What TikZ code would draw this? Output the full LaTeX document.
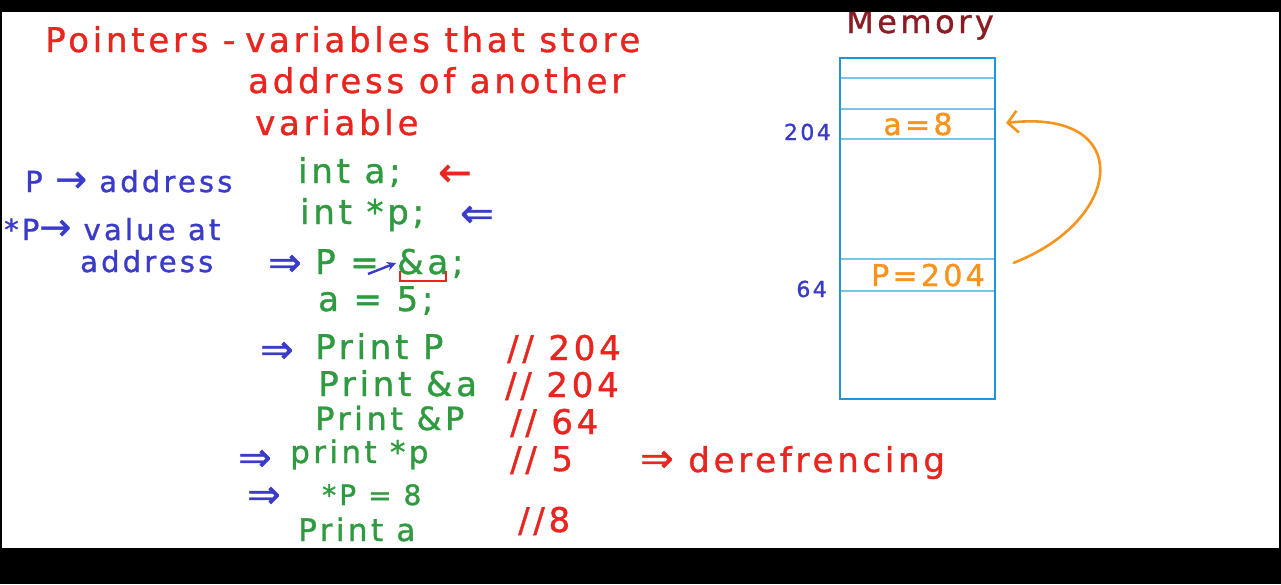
\documentclass[tikz,border=0pt]{standalone}
\usepackage{fontspec}
\setmainfont{DejaVu Sans}[LetterSpace=11,FakeBold=1.1]
\usetikzlibrary{arrows.meta,positioning,calc}

\definecolor{hred}{HTML}{E8261F}
\definecolor{hblue}{HTML}{3B3BCB}
\definecolor{hgreen}{HTML}{2F9A3F}
\definecolor{horange}{HTML}{F7941D}
\definecolor{membox}{HTML}{1E96DC}
\definecolor{memrule}{HTML}{7CC3E8}
\definecolor{hmaroon}{HTML}{8B1C24}

\begin{document}
\begin{tikzpicture}[x=1pt,y=-1pt,
    hand/.style={inner sep=0pt,anchor=base west,font=\fontsize{34}{40}\selectfont},
    redtxt/.style={hand,text=hred},
    bluetxt/.style={hand,text=hblue,font=\fontsize{29}{34}\selectfont},
    greentxt/.style={hand,text=hgreen},
    tighttxt/.style={greentxt,font=\fontsize{31}{36}\selectfont},
    marktxt/.style={hand,font=\fontsize{40}{40}\selectfont},
    celltxt/.style={inner sep=0pt,anchor=base,text=horange,font=\fontsize{30}{34}\selectfont},
    addrtxt/.style={inner sep=0pt,anchor=base east,text=hblue,font=\fontsize{22}{26}\selectfont}]
  % screen
  \fill[white] (0,0) rectangle (1281,584);
  % definition
  \node[redtxt] (title) at (45,52) {Pointers -};
  \node[redtxt] (def1) at (245,52) {variables that store};
  \node[redtxt] (def2) at (248,93) {address of another};
  \node[redtxt] (def3) at (255,135) {variable};
  % notes on the left
  \node[bluetxt] (paddr) at (25,192) {P {\fontsize{38}{38}\selectfont→} address};
  \node[bluetxt] (pval) at (4,240) {*P{\fontsize{38}{38}\selectfont→} value at};
  \node[bluetxt] (pval2) at (80,272) {address};
  % code
  \node[greentxt] (inta) at (298,183) {int a;};
  \node[marktxt,text=hred] (marka) at (438,186) {←};
  \node[greentxt] (intp) at (300,224) {int *p;};
  \node[marktxt,text=hblue] (markp) at (460,227) {⇐};
  \node[marktxt,text=hblue] (imp1) at (268,276) {⇒};
  \node[greentxt] (passign) at (315,274) {P =};
  \node[greentxt] (addra) at (397,274) {\&a;};
  \node[greentxt] (aset) at (318,311) {a = 5;};
  \node[marktxt,text=hblue] (imp2) at (260,363) {⇒};
  \node[greentxt] (print1) at (315,359) {Print P};
  \node[redtxt] (out1) at (507,360) {// 204};
  \node[greentxt] (print2) at (318,396) {Print \&a};
  \node[redtxt] (out2) at (505,397) {// 204};
  \node[tighttxt,font=\fontsize{32}{36}\selectfont] (print3) at (315,430) {Print \&P};
  \node[redtxt] (out3) at (510,434) {// 64};
  \node[marktxt,text=hblue] (imp3) at (238,471) {⇒};
  \node[tighttxt] (print4) at (290,463) {print *p};
  \node[redtxt] (out4) at (510,471) {// 5};
  \node[redtxt] (deref) at (640,472) {{\fontsize{40}{40}\selectfont⇒} derefrencing};
  \node[marktxt,text=hblue] (imp4) at (247,508) {⇒};
  \node[tighttxt,font=\fontsize{28}{32}\selectfont] (pset) at (322,505) {*P = 8};
  \node[tighttxt] (print5) at (298,541) {Print a};
  \node[redtxt] (out5) at (518,532) {//8};
  % small marks on p = &a
  \coordinate (eqtail) at (368,274);
  \draw[hblue,line width=2.4pt,-{Stealth[length=9pt,width=9pt]}] (eqtail) -- ($(addra.base west)+(-1,-11)$);
  \draw[hred,line width=2.4pt] ($(addra.base west)+(3,-3)$) -- ++(0,10) -- ++(46,0) -- ++(0,-10);
  % memory
  \node[inner sep=0pt,anchor=base,text=hmaroon,font=\fontsize{32}{36}\selectfont] (memtitle) at (920,33) {Memory};
  \draw[memrule,line width=1.3pt] \foreach \ry in {78,109,139,259,291} {(840,\ry) -- (995,\ry)};
  \draw[membox,line width=2.6pt] (840,58) rectangle (995,399);
  \node[celltxt] (acell) at (918,135) {a=8};
  \node[celltxt] (pcell) at (928,286) {P=204};
  \node[addrtxt] (addr204) at (831,140) {204};
  \node[addrtxt] (addr64) at (827,297) {64};
  \coordinate (pout) at ($(pcell.east)+(28,-12)$);
  \coordinate (ain) at (1006,123);
  \draw[horange,line width=2.6pt,-{Straight Barb[length=10pt,width=22pt]}] (pout) .. controls (1125,220) and (1135,108) .. (ain);
  % black bars of the screen
  \fill[black] (0,0) rectangle (1281,12);
  \fill[black] (0,548) rectangle (1281,584);
  \fill[black] (0,12) rectangle (2,548);
  \fill[black] (1279,12) rectangle (1281,548);
\end{tikzpicture}
\end{document}
